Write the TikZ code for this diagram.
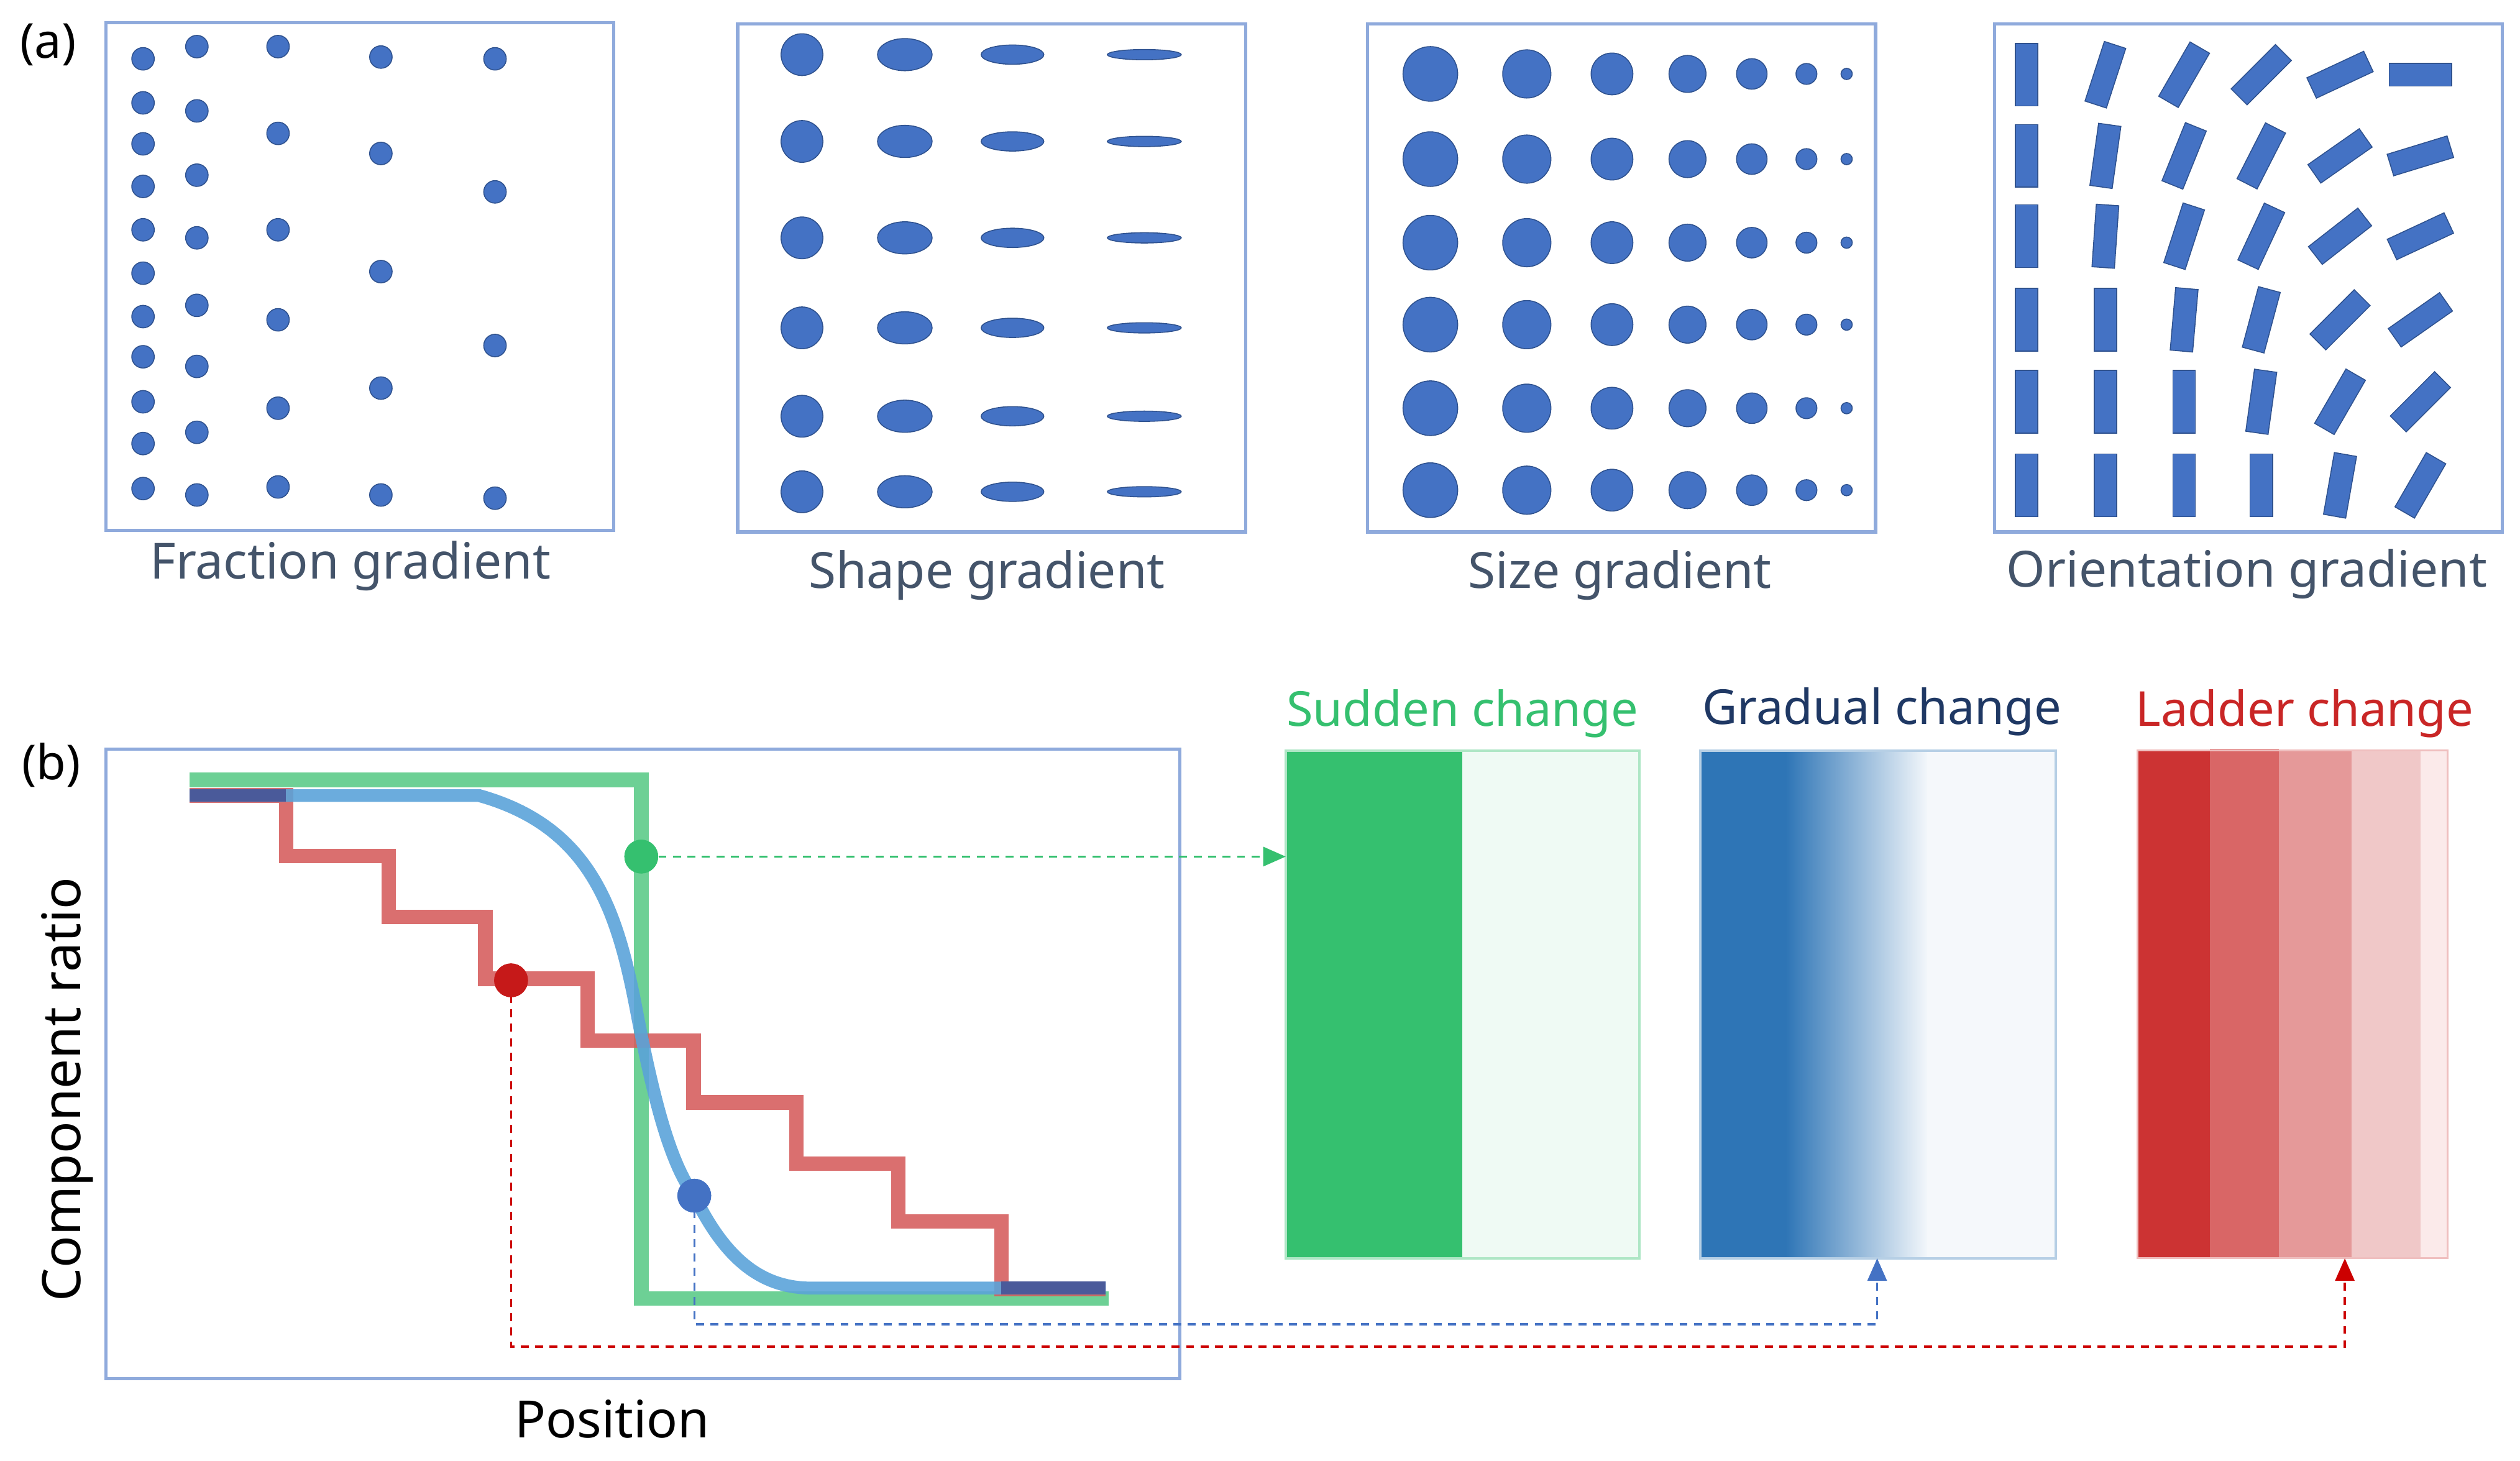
\documentclass[tikz,border=0pt]{standalone}
\usepackage{fontspec}
\setmainfont{Noto Sans}
\usetikzlibrary{arrows.meta}
\definecolor{dotb}{HTML}{4472C4}
\definecolor{dotbd}{HTML}{2F528F}
\definecolor{frame}{HTML}{8FAADC}
\definecolor{lbl}{HTML}{44546A}
\definecolor{gL}{HTML}{5DCB8A}
\definecolor{bL}{HTML}{5BA3D9}
\definecolor{rL}{HTML}{D65F5F}
\definecolor{nv}{HTML}{4A5A9A}
\definecolor{gS}{HTML}{35C06F}
\definecolor{bS}{HTML}{2E75B6}
\definecolor{gT}{HTML}{1F3864}
\definecolor{rT}{HTML}{C00000}
\definecolor{r1}{HTML}{CC3333}
\definecolor{r2}{HTML}{D96666}
\definecolor{r3}{HTML}{E59999}
\definecolor{r4}{HTML}{F0C8C8}
\definecolor{r5}{HTML}{FBEAEA}
\tikzset{
 fr/.style={draw=frame,line width=2},
 dt/.style={fill=dotb,draw=dotbd,line width=0.6},
 lab/.style={text=lbl,font=\fontsize{31}{34}\selectfont,anchor=center},
 bar/.style={draw=dotbd,fill=dotb,line width=0.6,minimum width=14,minimum height=39,inner sep=0,rectangle},
 ttl/.style={font=\fontsize{30}{33}\selectfont,anchor=center},
 tip/.style={-{Triangle[length=14,width=12]}},
}
\begin{document}
\begin{tikzpicture}[x=1pt,y=-1pt]
\useasboundingbox (0,0) rectangle (1568,909);
% panel labels
\node[font=\fontsize{30}{32}\selectfont] (pa) at (30,28) {(a)};
\node[font=\fontsize{30}{32}\selectfont] (pb) at (32,476) {(b)};
% boxes (a)
\draw[fr] (66,14) rectangle (382,330);
\draw[fr] (459,15) rectangle (775,331);
\draw[fr] (851,15) rectangle (1167,331);
\draw[fr] (1241,15) rectangle (1557,331);
\node[lab] (l1) at (218,352) {Fraction gradient};
\node[lab] (l2) at (614,358) {Shape gradient};
\node[lab] (l3) at (1008,358) {Size gradient};
\node[lab] (l4) at (1398,357) {Orientation gradient};
% fraction
\foreach \y in {36.6,64,89.5,116,143,170,197,222,250,276,304} \fill[dt] (89,\y) circle (7);
\foreach \y in {29,69,109,148,190,228,269,308} \fill[dt] (122.5,\y) circle (7);
\foreach \y in {29,83,143,199,254,303} \fill[dt] (173,\y) circle (7);
\foreach \y in {35.5,95.5,169,241.5,308} \fill[dt] (237,\y) circle (7);
\foreach \y in {36.6,119.4,215,310} \fill[dt] (308,\y) circle (7);
% shape
\foreach \y in {34,88,148,204,259,306}{
 \fill[dt] (499,\y) circle (13);
 \fill[dt] (563,\y) ellipse (17 and 10);
 \fill[dt] (630,\y) ellipse (19.5 and 6);
 \fill[dt] (712,\y) ellipse (23 and 3.2);
}
% size
\foreach \y in {46,99,151,202,254,305}{
 \foreach \x/\r in {890/17,950/15,1003/13,1050/11.5,1090/9.5,1124/6.5,1149/3.5}
  \fill[dt] (\x,\y) circle (\r);
}
% orientation
\foreach \y [count=\i] in {46.5,97,147,199,250,302}{
 \ifcase\i\or
  \def\angs{0,18,30,45,65,90}\or
  \def\angs{0,8,22,27,55,73}\or
  \def\angs{0,4,18,25,52,65}\or
  \def\angs{0,0,5,15,45,55}\or
  \def\angs{0,0,0,8,30,45}\or
  \def\angs{0,0,0,0,10,30}\fi
 \foreach \a [count=\j] in \angs {
  \pgfmathsetmacro\xx{{1261,1310,1359,1407,1456,1506}[\j-1]}
  \node[bar,rotate=-\a] at (\xx,\y) {};
 }
}
% panel (b) frame
\draw[fr] (66,466) rectangle (734,858);
\node[font=\fontsize{32}{35}\selectfont] (pos) at (381,883) {Position};
\node[font=\fontsize{33}{36}\selectfont,rotate=90] (cr) at (42,678) {Component ratio};
% curves
\draw[gL,line width=9,opacity=0.9] (118,485.3) -- (399,485.3) -- (399,808) -- (690,808);
\draw[rL,line width=9,opacity=0.9] (118,495) -- (178,495) -- (178,532.6) -- (242,532.6) -- (242,570.5) -- (302,570.5) -- (302,609) -- (365.6,609) -- (365.6,647.5) -- (431.5,647.5) -- (431.5,686) -- (495.4,686) -- (495.4,724) -- (559,724) -- (559,760) -- (623,760) -- (623,802) -- (688,802);
\draw[bL,line width=8,opacity=0.9] (118,495) -- (298,495) .. controls (370,515) and (385,570) .. (397,634) .. controls (408,690) and (418,725) .. (432,744) .. controls (452,785) and (475,801.5) .. (505,801.5) -- (688,801.5);
\draw[nv,line width=8] (118,495) -- (178,495);
\draw[nv,line width=8] (623,801.5) -- (688,801.5);
% right boxes
\fill[gS!8] (910,467) rectangle (1020,783);
\fill[gS] (800,467) rectangle (910,783);
\draw[gS!40,line width=1.5] (800,467) rectangle (1020,783);
\fill[bS] (1058,467) rectangle (1112,783);
\shade[left color=bS,right color=bS!5] (1111,467) rectangle (1200,783);
\fill[bS!5] (1199,467) rectangle (1279,783);
\draw[bS!35,line width=1.5] (1058,467) rectangle (1279,783);
\fill[r5] (1506,467) rectangle (1523,783);
\fill[r4] (1463,467) rectangle (1506,783);
\fill[r3] (1418,467) rectangle (1463,783);
\fill[r2] (1375,466) rectangle (1418,783);
\fill[r1] (1330,467) rectangle (1375,783);
\draw[rL!40,line width=1.2] (1330,467) rectangle (1523,783);
\node[ttl,text=gS] (ts) at (910,444) {Sudden change};
\node[ttl,text=gT] (tg) at (1171,443) {Gradual change};
\node[ttl,text=rT!85] (tl) at (1434,444) {Ladder change};
% dots
\node[circle,fill=gS,inner sep=0,minimum size=21] (gd) at (399,533) {};
\node[circle,fill=rT!90,inner sep=0,minimum size=21] (rd) at (318,610) {};
\node[circle,fill=dotb,inner sep=0,minimum size=21] (bd) at (432,744) {};
\coordinate (gbot) at (1168,783);
\coordinate (lbot) at (1459,783);
\coordinate (gE) at (800,533);
% dashed connectors
\draw[gS,line width=1.3,tip,dash pattern=on 5 off 4] (gd) -- (gE);
\draw[dotb,line width=1.3,tip,dash pattern=on 5 off 4] (bd.center) -- (432,824) -- (1168,824) -- (gbot);
\draw[red!80!black,line width=1.3,tip,dash pattern=on 5 off 4] (rd.center) -- (318,838) -- (1459,838) -- (lbot);
\node[circle,fill=gS,inner sep=0,minimum size=21] at (399,533) {};
\node[circle,fill=rT!90,inner sep=0,minimum size=21] at (318,610) {};
\node[circle,fill=dotb,inner sep=0,minimum size=21] at (432,744) {};
\end{tikzpicture}
\end{document}
